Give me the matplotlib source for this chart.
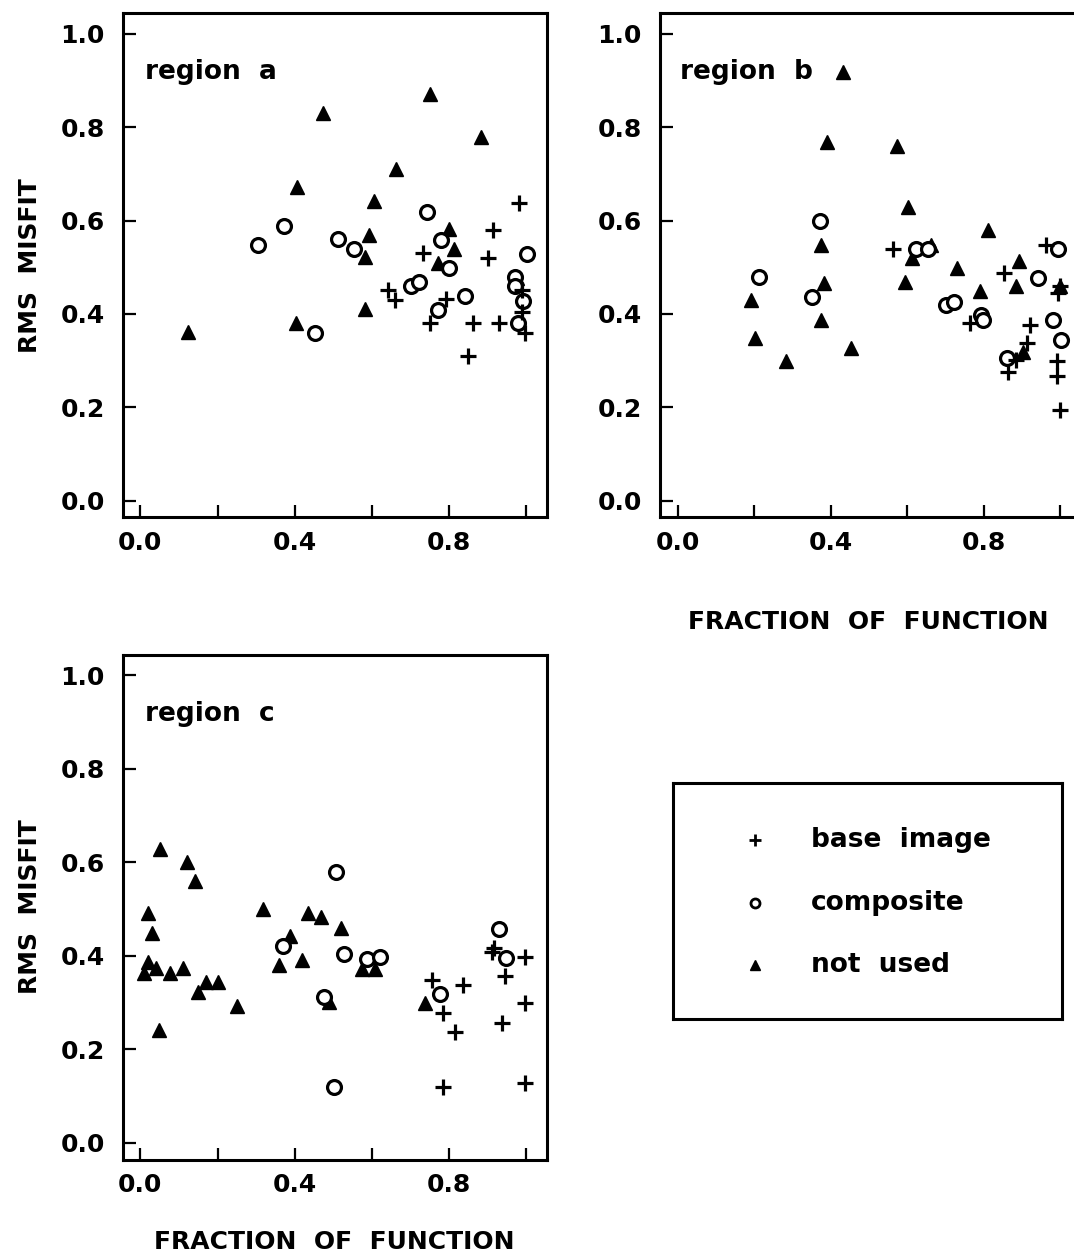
import matplotlib
matplotlib.use("Agg")
import matplotlib.pyplot as plt

plt.rcParams["font.family"] = ["DejaVu Sans"]
plt.rcParams["font.weight"] = "bold"
plt.rcParams["axes.labelweight"] = "bold"

# ---- data: region a ----
a_plus_x = [0.981, 0.914, 0.901, 0.732, 0.642, 0.661, 0.793, 0.752, 0.862, 0.931, 0.850, 0.997, 0.990, 0.990]
a_plus_y = [0.637, 0.580, 0.519, 0.530, 0.451, 0.430, 0.431, 0.380, 0.380, 0.380, 0.309, 0.359, 0.405, 0.451]
a_circ_x = [0.304, 0.373, 0.513, 0.555, 0.743, 0.780, 0.801, 0.702, 0.722, 0.843, 0.772, 0.454, 1.003, 0.971, 0.971, 0.992, 0.979]
a_circ_y = [0.548, 0.589, 0.560, 0.539, 0.618, 0.559, 0.499, 0.459, 0.469, 0.439, 0.409, 0.360, 0.528, 0.480, 0.459, 0.428, 0.380]
a_tri_x = [0.123, 0.474, 0.752, 0.883, 0.663, 0.406, 0.605, 0.594, 0.583, 0.582, 0.404, 0.801, 0.814, 0.772, 0.977]
a_tri_y = [0.362, 0.831, 0.871, 0.780, 0.710, 0.671, 0.642, 0.569, 0.521, 0.411, 0.381, 0.582, 0.540, 0.510, 0.476]

# ---- data: region b ----
b_plus_x = [0.563, 0.963, 0.852, 0.763, 0.921, 0.912, 0.884, 0.863, 0.991, 0.991, 1.000, 1.000, 0.993]
b_plus_y = [0.539, 0.548, 0.487, 0.380, 0.376, 0.337, 0.301, 0.276, 0.298, 0.266, 0.194, 0.460, 0.444]
b_circ_x = [0.373, 0.212, 0.351, 0.623, 0.654, 0.702, 0.722, 0.793, 0.799, 0.941, 0.993, 0.982, 1.002, 0.861]
b_circ_y = [0.598, 0.479, 0.437, 0.539, 0.539, 0.419, 0.426, 0.398, 0.386, 0.476, 0.539, 0.386, 0.345, 0.305]
b_tri_x = [0.432, 0.391, 0.573, 0.602, 0.812, 0.374, 0.661, 0.613, 0.730, 0.383, 0.593, 0.191, 0.791, 0.891,
           0.883, 0.203, 0.374, 0.282, 0.452, 0.902, 1.000]
b_tri_y = [0.919, 0.769, 0.760, 0.630, 0.579, 0.548, 0.548, 0.519, 0.499, 0.466, 0.469, 0.430, 0.448, 0.514,
           0.459, 0.348, 0.387, 0.298, 0.326, 0.319, 0.460]

# ---- data: region c ----
c_plus_x = [0.756, 0.786, 0.838, 0.817, 0.786, 0.916, 0.912, 0.946, 0.938, 0.997, 0.997, 0.997]
c_plus_y = [0.348, 0.277, 0.337, 0.237, 0.120, 0.416, 0.408, 0.356, 0.257, 0.398, 0.298, 0.128]
c_circ_x = [0.508, 0.369, 0.527, 0.588, 0.622, 0.475, 0.501, 0.776, 0.929, 0.948]
c_circ_y = [0.578, 0.420, 0.403, 0.392, 0.398, 0.312, 0.120, 0.318, 0.458, 0.396]
c_tri_x = [0.050, 0.121, 0.141, 0.020, 0.029, 0.318, 0.436, 0.469, 0.520, 0.389, 0.419, 0.359, 0.020,
           0.009, 0.041, 0.078, 0.110, 0.150, 0.171, 0.201, 0.251, 0.048, 0.488, 0.576, 0.609, 0.737]
c_tri_y = [0.629, 0.601, 0.560, 0.492, 0.449, 0.501, 0.492, 0.482, 0.460, 0.442, 0.391, 0.380, 0.387,
           0.362, 0.373, 0.362, 0.373, 0.323, 0.344, 0.344, 0.292, 0.242, 0.301, 0.371, 0.371, 0.299]

legend_labels = ["base  image", "composite", "not  used"]
legend_markers = ["+", "o", "^"]

W, H = 1074, 1259
fig = plt.figure(figsize=(W / 100, H / 100), dpi=100)


def px_axes(left, top, width, height):
    # pixel box -> figure fraction
    return fig.add_axes([left / W, 1 - (top + height) / H, width / W, height / H])


def style_axes(ax):
    ax.set_xlim(-0.046, 1.054)
    ax.set_ylim(-0.036, 1.044)
    ax.set_xticks([0.0, 0.2, 0.4, 0.6, 0.8, 1.0])
    ax.set_xticklabels(["0.0", "", "0.4", "", "0.8", ""])
    ax.set_yticks([0.0, 0.2, 0.4, 0.6, 0.8, 1.0])
    ax.set_yticklabels(["0.0", "0.2", "0.4", "0.6", "0.8", "1.0"])
    ax.tick_params(direction="in", length=9, width=1.6, labelsize=18)
    ax.tick_params(axis="y", pad=13)
    ax.tick_params(axis="x", pad=10)
    for sp in ax.spines.values():
        sp.set_linewidth(2.2)


def draw_points(ax, px, py, cx, cy, tx, ty):
    ax.plot(tx, ty, linestyle="none", marker="^", markersize=9.5, color="black")
    ax.plot(cx, cy, linestyle="none", marker="o", markersize=10, markerfacecolor="white",
            markeredgecolor="black", markeredgewidth=2.3)
    ax.plot(px, py, linestyle="none", marker="+", markersize=12, markeredgewidth=2.3, color="black")


ax_a = px_axes(122.7, 13.3, 424, 504)
style_axes(ax_a)
draw_points(ax_a, a_plus_x, a_plus_y, a_circ_x, a_circ_y, a_tri_x, a_tri_y)
ax_a.text(0.053, 0.884, "region  a", transform=ax_a.transAxes, fontsize=19, va="center")
ax_a.set_ylabel("RMS  MISFIT", fontsize=18)
ax_a.yaxis.set_label_coords(-0.19, 0.5)

ax_b = px_axes(660, 13.3, 421, 504)
style_axes(ax_b)
draw_points(ax_b, b_plus_x, b_plus_y, b_circ_x, b_circ_y, b_tri_x, b_tri_y)
ax_b.text(0.048, 0.884, "region  b", transform=ax_b.transAxes, fontsize=19, va="center")
ax_b.set_xlabel("FRACTION  OF  FUNCTION", fontsize=18)
ax_b.xaxis.set_label_coords(0.494, -0.184)

ax_c = px_axes(122.7, 654.6, 424, 505)
style_axes(ax_c)
draw_points(ax_c, c_plus_x, c_plus_y, c_circ_x, c_circ_y, c_tri_x, c_tri_y)
ax_c.text(0.053, 0.882, "region  c", transform=ax_c.transAxes, fontsize=19, va="center")
ax_c.set_ylabel("RMS  MISFIT", fontsize=18)
ax_c.yaxis.set_label_coords(-0.19, 0.5)
ax_c.set_xlabel("FRACTION  OF  FUNCTION", fontsize=18)
ax_c.xaxis.set_label_coords(0.5, -0.14)

# legend drawn as its own axes so the box matches the original size
ax_l = px_axes(673, 783, 389, 236)
ax_l.set_xlim(0, 1)
ax_l.set_ylim(0, 1)
ax_l.set_xticks([])
ax_l.set_yticks([])
for sp in ax_l.spines.values():
    sp.set_linewidth(2.2)
row_y = [0.76, 0.49, 0.23]
for lab, mk, yy in zip(legend_labels, legend_markers, row_y):
    if mk == "o":
        ax_l.plot(0.21, yy, marker=mk, markersize=6.5, markerfacecolor="white",
                  markeredgecolor="black", markeredgewidth=2, linestyle="none")
    elif mk == "+":
        ax_l.plot(0.21, yy, marker=mk, markersize=8, markeredgewidth=2, color="black", linestyle="none")
    else:
        ax_l.plot(0.21, yy, marker=mk, markersize=6.5, color="black", linestyle="none")
    ax_l.text(0.355, yy, lab, fontsize=19, va="center", ha="left")

fig.savefig("out.png", dpi=100)
